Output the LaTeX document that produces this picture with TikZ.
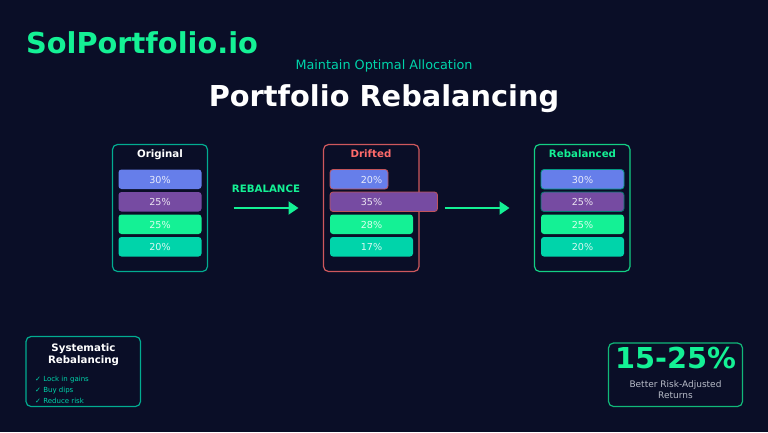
\documentclass[tikz,border=0pt]{standalone}
\usepackage{fontspec}
\setmainfont{DejaVu Sans}
\usetikzlibrary{arrows.meta}
\definecolor{bgc}{HTML}{0A0E27}
\definecolor{gr}{HTML}{14F195}
\definecolor{te}{HTML}{00D4AA}
\definecolor{bl}{HTML}{667EEA}
\definecolor{pu}{HTML}{764BA2}
\definecolor{re}{HTML}{FF6B6B}
\definecolor{gy}{HTML}{B8BCC8}
\newcommand{\fs}[1]{\fontsize{#1}{#1}\selectfont}
\tikzset{x=1pt,y=-1pt,
 cardbox/.style={draw=#1,line width=1.2pt,rounded corners=5pt},
 barbox/.style={rounded corners=3pt,line width=0.8pt},
 tx/.style={inner sep=0pt,anchor=base,text=#1},
 pct/.style={inner sep=0pt,anchor=base,text=white,text opacity=0.85,font=\fs{9.6}},
 flow/.style={draw=gr,line width=2pt,-{Triangle[length=10pt,width=13pt]}}}
\newcommand{\allocbar}[6]{% name, x0, x1, ytop, fill, strokeopts
 \path[barbox,fill=#5,#6] (#2,#4) rectangle (#3,#4+19.5);}
\newcommand{\pctlab}[4]{\node[pct] (#1) at (#2,#3) {#4};}
\begin{document}
\begin{tikzpicture}
\useasboundingbox (0,0) rectangle (768,432);
\fill[bgc] (0,0) rectangle (768,432);
\node[tx=gr,anchor=base west,font=\fs{28.8}\bfseries] (brand) at (26,53) {SolPortfolio.io};
\node[tx=te,font=\fs{12.8}] (sub) at (384,69) {Maintain Optimal Allocation};
\node[tx=white,font=\fs{28.8}\bfseries] (title) at (384,106) {Portfolio Rebalancing};
% cards
\draw[cardbox=te!80!bgc] (112.5,144.5) rectangle (207.5,271.5);
\node[tx=white,font=\fs{10.24}\bfseries] (t1) at (160,157.5) {Original};
\draw[cardbox=re!80!bgc] (323.5,144.5) rectangle (419,271.5);
\node[tx=re,font=\fs{10.24}\bfseries] (t2) at (371,157.5) {Drifted};
\draw[cardbox=gr!85!bgc] (534.5,144.5) rectangle (630,271.5);
\node[tx=gr,font=\fs{10.24}\bfseries] (t3) at (582.5,157.5) {Rebalanced};
% bars: original
\allocbar{a1}{118.5}{201.5}{169.5}{bl}{}
\allocbar{a2}{118.5}{201.5}{192}{pu}{}
\allocbar{a3}{118.5}{201.5}{214.5}{gr}{}
\allocbar{a4}{118.5}{201.5}{237}{te}{}
\pctlab{la1}{160}{183}{30\%}
\pctlab{la2}{160}{205.5}{25\%}
\pctlab{la3}{160}{228}{25\%}
\pctlab{la4}{160}{250.5}{20\%}
% bars: drifted
\allocbar{b1}{330}{388}{169.5}{bl}{draw=re!75!bgc}
\allocbar{b2}{330}{437.5}{192}{pu}{draw=re!75!bgc}
\allocbar{b3}{330}{413}{214.5}{gr}{}
\allocbar{b4}{330}{413}{237}{te}{}
\pctlab{lb1}{371.5}{183}{20\%}
\pctlab{lb2}{371.5}{205.5}{35\%}
\pctlab{lb3}{371.5}{228}{28\%}
\pctlab{lb4}{371.5}{250.5}{17\%}
% bars: rebalanced
\allocbar{c1}{541}{624}{169.5}{bl}{draw=te!70!bgc}
\allocbar{c2}{541}{624}{192}{pu}{draw=te!55!bgc}
\allocbar{c3}{541}{624}{214.5}{gr}{}
\allocbar{c4}{541}{624}{237}{te}{}
\pctlab{lc1}{582.5}{183}{30\%}
\pctlab{lc2}{582.5}{205.5}{25\%}
\pctlab{lc3}{582.5}{228}{25\%}
\pctlab{lc4}{582.5}{250.5}{20\%}
% arrows
\node[tx=gr,font=\fs{10.24}\bfseries] (reb) at (266,192.5) {REBALANCE};
\coordinate (f1a) at (233.5,208); \coordinate (f1b) at (298.5,208);
\coordinate (f2a) at (444.5,208); \coordinate (f2b) at (509.5,208);
\draw[flow] (f1a) -- (f1b);
\draw[flow] (f2a) -- (f2b);
% bottom-left
\draw[cardbox=te!80!bgc] (26,336.5) rectangle (140.5,406.5);
\node[tx=white,font=\fs{10.24}\bfseries] (s1) at (83.5,351) {Systematic};
\node[tx=white,font=\fs{10.24}\bfseries] (s2) at (83.5,363.5) {Rebalancing};
\node[tx=te,anchor=base west,font=\fs{7}] (c1) at (35,381.5) {✓ Lock in gains};
\node[tx=te,anchor=base west,font=\fs{7}] (c2) at (35,392.5) {✓ Buy dips};
\node[tx=te,anchor=base west,font=\fs{7}] (c3) at (35,403.5) {✓ Reduce risk};
% bottom-right
\draw[cardbox=gr!75!bgc] (608.5,343) rectangle (742.5,406.5);
\node[tx=gr,font=\fs{28.8}\bfseries] (big) at (675.5,368) {15-25\%};
\node[tx=gy,font=\fs{9}] (r1) at (675.5,387) {Better Risk-Adjusted};
\node[tx=gy,font=\fs{9}] (r2) at (675.5,398.5) {Returns};
\end{tikzpicture}
\end{document}
